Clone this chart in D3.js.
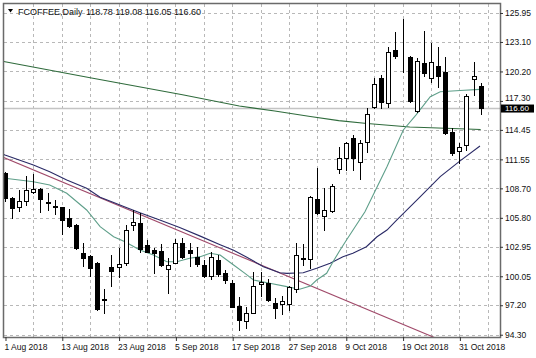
<!DOCTYPE html>
<html><head><meta charset="utf-8">
<script src="https://cdn.jsdelivr.net/npm/d3@7"></script>
<style>body{margin:0;background:#fff}svg{display:block}text{font-family:"Liberation Sans",Arial,sans-serif}</style>
</head><body><svg id="c" width="536" height="358"></svg>
<script>
// ---- data ----
const dates = [
 "1 Aug","2 Aug","3 Aug","6 Aug","7 Aug","8 Aug","9 Aug","10 Aug","13 Aug","14 Aug","15 Aug","16 Aug","17 Aug",
 "20 Aug","21 Aug","22 Aug","23 Aug","24 Aug","27 Aug","28 Aug","29 Aug","30 Aug","31 Aug",
 "4 Sep","5 Sep","6 Sep","7 Sep","10 Sep","11 Sep","12 Sep","13 Sep","14 Sep","17 Sep","18 Sep","19 Sep","20 Sep","21 Sep",
 "24 Sep","25 Sep","26 Sep","27 Sep","28 Sep",
 "1 Oct","2 Oct","3 Oct","4 Oct","5 Oct","8 Oct","9 Oct","10 Oct","11 Oct","12 Oct","15 Oct","16 Oct","17 Oct","18 Oct","19 Oct",
 "22 Oct","23 Oct","24 Oct","25 Oct","26 Oct","29 Oct","30 Oct","31 Oct","1 Nov","2 Nov","5 Nov"];
const open  = [110.18,107.78,106.90,107.48,108.31,108.61,107.33,106.96,106.84,105.75,105.09,102.37,102.04,101.33,97.82,100.99,100.93,101.39,105.09,105.32,103.13,102.63,102.54,100.74,101.39,103.35,102.63,101.98,101.16,100.08,101.65,100.40,99.42,97.13,95.68,96.47,99.26,99.36,97.39,97.29,97.32,98.77,101.78,101.72,107.62,105.98,106.50,110.57,111.71,113.62,111.32,113.29,116.67,119.53,117.13,122.31,121.45,121.59,116.34,121.00,119.53,120.74,120.18,114.27,112.40,112.96,119.43,118.78];
const high  = [110.30,107.88,108.54,109.91,110.08,108.70,108.27,107.55,106.90,106.64,105.15,103.35,102.10,101.50,98.77,102.14,102.80,105.09,106.57,106.30,103.62,102.80,103.22,101.82,103.69,103.78,103.35,102.96,101.65,102.47,102.14,100.67,99.68,98.04,97.00,100.50,100.50,99.75,97.88,98.11,99.09,103.29,103.22,107.95,110.67,108.70,109.10,112.74,113.29,113.95,113.46,116.57,119.53,119.85,122.58,124.11,125.33,121.72,121.49,124.21,122.97,122.64,121.65,114.60,113.19,117.98,121.16,119.08];
const low   = [107.50,105.75,106.47,107.06,108.21,106.40,106.57,106.18,104.21,104.87,102.70,101.06,100.08,96.73,96.41,99.09,100.01,101.16,104.60,102.47,102.45,100.40,101.10,98.43,101.33,101.82,101.06,101.06,100.01,99.75,100.08,99.36,97.00,94.80,94.93,96.41,98.11,97.62,95.92,96.34,96.73,98.53,101.16,100.83,106.18,104.60,106.40,110.24,110.49,110.49,109.59,112.31,116.57,116.57,116.73,121.49,120.18,117.22,116.24,119.75,119.19,118.64,114.05,111.98,111.16,112.47,117.88,116.05];
const close = [107.72,106.74,107.48,108.54,108.64,107.62,107.25,106.85,105.59,104.99,102.86,101.82,100.83,96.80,97.76,100.60,101.23,104.60,105.36,102.70,102.47,102.37,101.16,101.16,103.29,101.91,102.31,101.23,100.08,101.98,100.28,99.68,97.06,95.75,96.41,99.09,99.52,97.72,96.90,97.62,98.96,102.14,101.86,107.82,106.24,106.57,108.96,111.71,113.13,111.66,113.19,116.01,118.97,117.22,122.14,121.72,121.38,117.32,121.26,120.02,121.16,119.75,114.12,112.15,112.80,117.78,119.75,116.60];

// moving averages / trend line: [bar index, price]
const maLong = [[-1,121.30],[0,121.16],[12,119.58],[25,117.91],[33,116.80],[38,116.31],[43,115.77],[47,115.36],[51,115.08],[57,114.73],[62,114.61],[67,114.49]];
const maShort = [[-1,109.75],[0,109.69],[4,109.35],[6.3,109.03],[8.7,108.21],[11.5,106.57],[13.4,104.93],[15.3,103.94],[16.9,103.45],[19,102.63],[20.9,102.14],[22.8,101.48],[24.2,101.48],[26,101.82],[27.5,101.98],[28.9,102.31],[30.3,102.14],[32.2,101.16],[33.8,100.34],[35,99.68],[37.3,99.36],[39.7,99.03],[41.5,98.77],[43,99.09],[43.9,99.68],[45.3,100.34],[46.2,101.48],[47.2,102.63],[48.1,103.62],[50.7,106.40],[53.8,110.83],[56.1,114.44],[57.9,115.92],[59.9,117.72],[61.3,118.21],[64.1,118.33],[66.9,118.44]];
const maMid = [[-1,112.30],[0,111.98],[4,110.99],[6.3,110.34],[8.7,109.52],[11.5,108.70],[13.4,107.82],[15.3,107.30],[16.9,106.86],[19,106.30],[21.8,105.59],[24.6,104.85],[27.5,104.00],[30.3,103.15],[32.2,102.60],[34,101.95],[36.4,100.99],[38.7,100.40],[39.7,100.34],[42,100.40],[43.9,100.83],[45.8,101.33],[47.6,101.98],[49,102.31],[50.9,102.96],[52.4,103.94],[53.8,104.60],[55.2,105.59],[58.5,107.88],[61.3,109.85],[64.1,111.40],[66.9,112.87]];
const trendLine = [[-1,111.98],[60.5,94.02]];

const yTicks = [125.95,123.10,120.20,117.30,114.45,111.55,108.70,105.80,102.95,100.05,97.20,94.30];
const xLabelIdx = [0,8,16,24,32,40,48,56,64];
const xLabelYear = "2018";
const titleText = "FCOFFEE,Daily";
const ohlcText = "118.78 119.08 116.05 116.60";
const lastPrice = 116.60;

// ---- drawing ----
const svg = d3.select("#c");
const L = 4, R = 500, T = 4, B = 337;
const x = d3.scaleLinear().domain([-0.14, 69.72]).range([L, R]);
const y = d3.scaleLinear().domain([94.076, 126.835]).range([B, T]);
const px = v => Math.round(x(v)) + 0.5;
const py = v => Math.round(y(v)) + 0.5;

svg.append("rect").attr("width",536).attr("height",358).attr("fill","#fff");
svg.append("defs").append("clipPath").attr("id","clip")
  .append("rect").attr("x",L).attr("y",T).attr("width",R-L).attr("height",B-T);

// grid
const grid = svg.append("g").attr("stroke","#b8b8b8").attr("stroke-dasharray","3,3").attr("stroke-width",1);
grid.selectAll("line.h").data(yTicks).join("line").attr("class","h")
  .attr("x1",L).attr("x2",R).attr("y1",d=>py(d)).attr("y2",d=>py(d));
grid.selectAll("line.v").data(d3.range(4, 69, 4)).join("line").attr("class","v")
  .attr("x1",d=>px(d)).attr("x2",d=>px(d)).attr("y1",T).attr("y2",B);

// last price line
svg.append("line").attr("x1",L).attr("x2",R).attr("y1",py(lastPrice)).attr("y2",py(lastPrice))
  .attr("stroke","#c4c4c4").attr("stroke-width",1.5);

const plot = svg.append("g").attr("clip-path","url(#clip)");
const line = d3.line().x(d=>x(d[0])).y(d=>y(d[1]));
plot.append("path").datum(maLong).attr("d",line).attr("fill","none").attr("stroke","#2f6b3c").attr("stroke-width",1.1);
plot.append("path").datum(trendLine).attr("d",line).attr("fill","none").attr("stroke","#a04a6a").attr("stroke-width",1.1);
plot.append("path").datum(maMid).attr("d",line).attr("fill","none").attr("stroke","#2a2a66").attr("stroke-width",1.1);
plot.append("path").datum(maShort).attr("d",line).attr("fill","none").attr("stroke","#5f9f8a").attr("stroke-width",1.1);

// candles
const bars = d3.range(dates.length).map(i => ({i, o:open[i], h:high[i], l:low[i], c:close[i]}));
const cg = plot.selectAll("g.candle").data(bars).join("g").attr("class","candle");
cg.append("line").attr("x1",d=>px(d.i)).attr("x2",d=>px(d.i))
  .attr("y1",d=>Math.round(y(d.h))).attr("y2",d=>Math.round(y(d.l))+1).attr("stroke","#000");
cg.append("rect")
  .attr("x",d=>Math.round(x(d.i))-2+0.5)
  .attr("y",d=>Math.round(y(Math.max(d.o,d.c)))+0.5)
  .attr("width",4)
  .attr("height",d=>Math.max(0, Math.round(y(Math.min(d.o,d.c))) - Math.round(y(Math.max(d.o,d.c)))))
  .attr("fill",d=>d.c>=d.o?"#fff":"#000").attr("stroke","#000").attr("stroke-width",1);

// frame
svg.append("rect").attr("x",L-0.5).attr("y",T-0.5).attr("width",R-L+1).attr("height",B-T+1)
  .attr("fill","none").attr("stroke","#6a6a6a").attr("stroke-width",1.5);

// right axis
const ya = svg.append("g").attr("transform",`translate(${R},0)`)
  .call(d3.axisRight(y).tickValues(yTicks).tickSize(3).tickPadding(2).tickFormat(d3.format(".2f")));
ya.select(".domain").remove();
ya.selectAll("line").attr("stroke","#333");
ya.selectAll("text").attr("font-size","8.5px").attr("fill","#111").attr("font-family",'"Liberation Sans",Arial,sans-serif')
  .attr("dy", d => d === 117.30 ? "-0.05em" : "0.32em");

// last price label
const lp = svg.append("g");
lp.append("rect").attr("x",R+1).attr("y",y(lastPrice)-3.5).attr("width",33).attr("height",8).attr("fill","#000");
lp.append("text").attr("x",R+5).attr("y",y(lastPrice)+3.3).attr("font-size","8px").attr("fill","#fff").text(d3.format(".2f")(lastPrice));

// bottom axis
const xa = svg.append("g").attr("transform",`translate(0,${B})`)
  .call(d3.axisBottom(x).tickValues(xLabelIdx).tickSize(4).tickFormat(i => dates[i] + " " + xLabelYear));
xa.select(".domain").remove();
xa.selectAll("line").attr("stroke","#333").attr("transform","translate(0.5,0)");
xa.selectAll("text").attr("text-anchor","start").attr("dx","-1").attr("dy","0").attr("y",12.5)
  .attr("font-size","8.5px").attr("fill","#111").attr("font-family",'"Liberation Sans",Arial,sans-serif');

// title
svg.append("path").attr("d","M8,9 L13,9 L10.5,12.5 Z").attr("fill","#000");
svg.append("text").attr("x",18).attr("y",14.5).attr("font-size","9px").attr("fill","#111").text(titleText);
svg.append("text").attr("x",86).attr("y",14.5).attr("font-size","9px").attr("fill","#111").text(ohlcText);
</script></body></html>
